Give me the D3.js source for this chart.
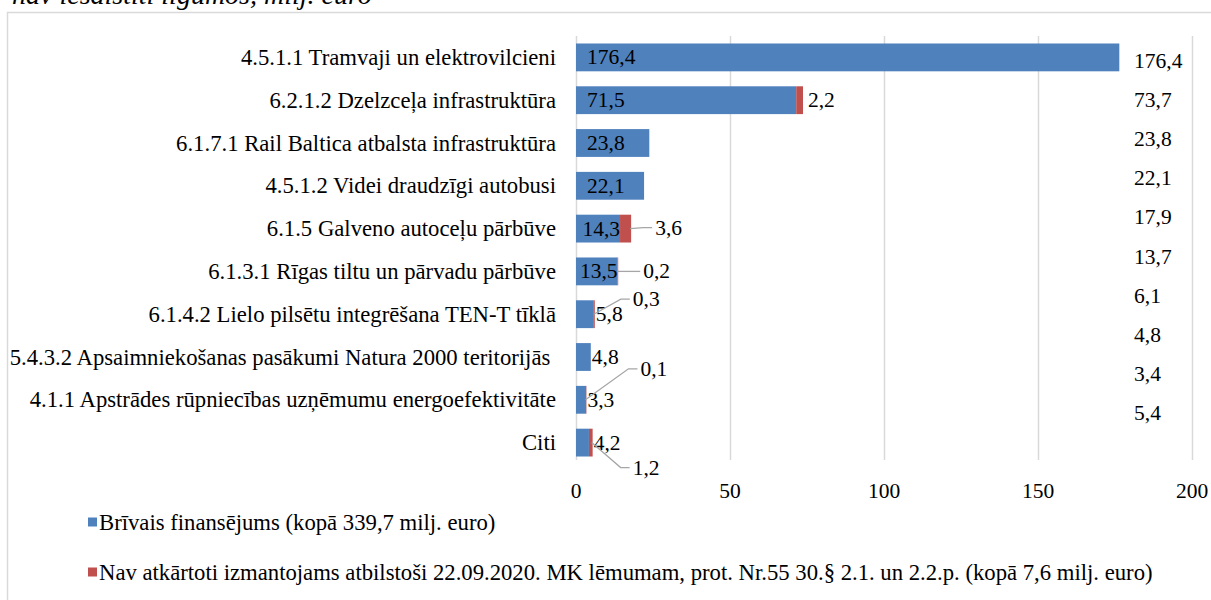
<!DOCTYPE html>
<html>
<head>
<meta charset="utf-8">
<script src="https://cdn.jsdelivr.net/npm/d3@7"></script>
<style>
  body { margin: 0; background: #fff; }
</style>
</head>
<body>
<script>
// data
const categories = [
  "4.5.1.1 Tramvaji un elektrovilcieni",
  "6.2.1.2 Dzelzceļa infrastruktūra",
  "6.1.7.1 Rail Baltica atbalsta infrastruktūra",
  "4.5.1.2 Videi draudzīgi autobusi",
  "6.1.5 Galveno autoceļu pārbūve",
  "6.1.3.1 Rīgas tiltu un pārvadu pārbūve",
  "6.1.4.2 Lielo pilsētu integrēšana TEN-T tīklā",
  "5.4.3.2 Apsaimniekošanas pasākumi Natura 2000 teritorijās\u00a0",
  "4.1.1 Apstrādes rūpniecības uzņēmumu energoefektivitāte",
  "Citi"
];
const freeFunding = [176.4, 71.5, 23.8, 22.1, 14.3, 13.5, 5.8, 4.8, 3.3, 4.2];
const notReusable = [0, 2.2, 0, 0, 3.6, 0.2, 0.3, 0, 0.1, 1.2];
const totals = ["176,4", "73,7", "23,8", "22,1", "17,9", "13,7", "6,1", "4,8", "3,4", "5,4"];
const xTicks = [0, 50, 100, 150, 200];
const legendLabels = [
  "Brīvais finansējums (kopā 339,7 milj. euro)",
  "Nav atkārtoti izmantojams atbilstoši 22.09.2020. MK lēmumam, prot. Nr.55 30.§ 2.1. un 2.2.p. (kopā 7,6 milj. euro)"
];

// label placement for the red segment labels: [dx from bar end, dy, leader line]
const redLabelPos = [null, [5, 0, false], null, null, [24, -1, true], [25, 0, true],
  [38, -15, true], null, [54, -31, true], [40, 25, true]];

const width = 1211, height = 600;
const blue = "#4f81bd", red = "#c0504d", grid = "#d9d9d9";
const fs = 21.5;   // numbers
const fsCat = 22.7; // category names, legend
const fmt = (v) => String(v).replace(".", ",");

const svg = d3.select("body").append("svg")
  .attr("width", width).attr("height", height)
  .style("font-family", '"Liberation Serif", "Times New Roman", serif');

// cropped caption above the chart frame
svg.append("text")
  .attr("x", 12).attr("y", 4)
  .attr("font-size", "28px")
  .attr("font-style", "italic")
  .text("nav iesaistīti līgumos, milj. euro");

// chart frame
svg.append("path")
  .attr("d", "M7.5,600 V12.5 H1211")
  .attr("fill", "none").attr("stroke", grid).attr("stroke-width", 1.5);

const xScale = d3.scaleLinear().domain([0, 200]).range([576, 1192]);
const yScale = d3.scaleBand().domain(categories).range([36, 464]).paddingInner(0.35).paddingOuter(0.175);

// gridlines
svg.append("g").selectAll("line")
  .data(xTicks).enter().append("line")
  .attr("x1", (d) => xScale(d) + 0.5).attr("x2", (d) => xScale(d) + 0.5)
  .attr("y1", 36).attr("y2", 460)
  .attr("stroke", grid).attr("stroke-width", 1.5);

// tick labels
svg.append("g").selectAll("text")
  .data(xTicks).enter().append("text")
  .attr("x", (d) => xScale(d)).attr("y", 491)
  .attr("text-anchor", "middle").attr("dominant-baseline", "central")
  .attr("font-size", fs + "px")
  .text((d) => d);

const rows = categories.map((c, i) => ({
  cat: c, blue: freeFunding[i], red: notReusable[i], i: i
}));

// category labels
svg.append("g").selectAll("text")
  .data(rows).enter().append("text")
  .attr("x", 556).attr("y", (d) => yScale(d.cat) + yScale.bandwidth() / 2)
  .attr("text-anchor", "end").attr("dominant-baseline", "central")
  .attr("font-size", fsCat + "px")
  .text((d) => d.cat);

// bars
svg.append("g").selectAll("rect")
  .data(rows).enter().append("rect")
  .attr("x", xScale(0)).attr("y", (d) => yScale(d.cat))
  .attr("width", (d) => xScale(d.blue) - xScale(0))
  .attr("height", yScale.bandwidth())
  .attr("fill", blue);

svg.append("g").selectAll("rect")
  .data(rows.filter((d) => d.red > 0)).enter().append("rect")
  .attr("x", (d) => xScale(d.blue)).attr("y", (d) => yScale(d.cat))
  .attr("width", (d) => xScale(d.blue + d.red) - xScale(d.blue))
  .attr("height", yScale.bandwidth())
  .attr("fill", red);

// blue value labels
const blueLabels = svg.append("g").selectAll("text")
  .data(rows).enter().append("text")
  .attr("y", (d) => yScale(d.cat) + yScale.bandwidth() / 2)
  .attr("dominant-baseline", "central")
  .attr("font-size", fs + "px")
  .text((d) => fmt(d.blue));
blueLabels.each(function (d) {
  const w = this.getComputedTextLength();
  const base = xScale(0), end = xScale(d.blue);
  let x = base + 11;
  if (x + w > end) x = end - w;
  if (x < base + 1) x = xScale(d.blue + d.red) + 1;
  d3.select(this).attr("x", x);
});

// red value labels with leader lines
rows.forEach((d) => {
  const p = redLabelPos[d.i];
  if (!p || d.red <= 0) return;
  const end = xScale(d.blue + d.red);
  const cy = yScale(d.cat) + yScale.bandwidth() / 2;
  const lx = end + p[0], ly = cy + p[1];
  if (p[2]) {
    const sx = end - 1;
    svg.append("path")
      .attr("d", `M${sx},${cy} L${lx - 12},${ly} L${lx - 3},${ly}`)
      .attr("fill", "none").attr("stroke", "#a6a6a6").attr("stroke-width", 1.3);
  }
  svg.append("text")
    .attr("x", lx).attr("y", ly)
    .attr("dominant-baseline", "central")
    .attr("font-size", fs + "px")
    .text(fmt(d.red));
});

// totals column on the right
const yTot = d3.scaleLinear().domain([0, totals.length - 1]).range([61, 413]);
svg.append("g").selectAll("text")
  .data(totals).enter().append("text")
  .attr("x", 1134).attr("y", (d, i) => yTot(i))
  .attr("dominant-baseline", "central")
  .attr("font-size", fs + "px")
  .text((d) => d);

// legend
const legend = svg.append("g").selectAll("g")
  .data(legendLabels).enter().append("g")
  .attr("transform", (d, i) => `translate(88,${522 + i * 50})`);
legend.append("rect")
  .attr("x", 0).attr("y", -4.5).attr("width", 9).attr("height", 9)
  .attr("fill", (d, i) => (i === 0 ? blue : red));
legend.append("text")
  .attr("x", 11).attr("y", 0)
  .attr("dominant-baseline", "central")
  .attr("font-size", fsCat + "px")
  .text((d) => d);
</script>
</body>
</html>
